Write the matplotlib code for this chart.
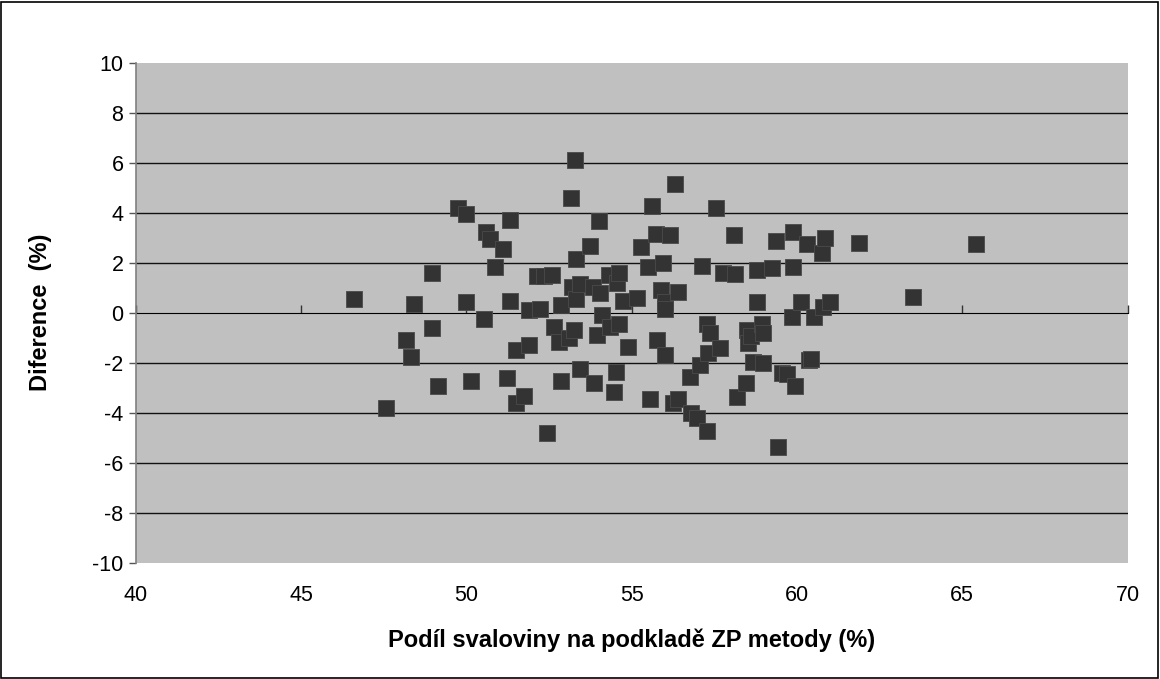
import matplotlib
matplotlib.use("Agg")
import matplotlib.pyplot as plt
from matplotlib.patches import Rectangle

plt.rcParams['font.family'] = ['Liberation Sans', 'DejaVu Sans']

# Data
x_zp = [46.59, 47.55, 48.17, 48.31, 48.40, 48.96, 48.95, 49.13, 49.73, 49.99,
        49.99, 50.15, 50.54, 50.58, 50.70, 50.87, 51.10, 51.24, 51.33, 51.33,
        51.49, 51.51, 51.74, 51.88, 51.89, 52.13, 52.21, 52.35, 52.43, 52.59,
        52.66, 52.79, 52.86, 52.86, 53.09, 53.15, 53.19, 53.24, 53.27, 53.32,
        53.32, 53.42, 53.42, 53.74, 53.84, 53.87, 53.95, 54.02, 54.04, 54.10,
        54.30, 54.35, 54.45, 54.51, 54.55, 54.60, 54.60, 54.75, 54.90, 55.16,
        55.29, 55.48, 55.55, 55.62, 55.72, 55.76, 55.90, 55.94, 56.01, 56.01,
        56.01, 56.17, 56.26, 56.31, 56.41, 56.41, 56.75, 56.80, 56.97, 57.07,
        57.13, 57.27, 57.29, 57.32, 57.37, 57.54, 57.67, 57.76, 58.09, 58.11,
        58.19, 58.45, 58.48, 58.53, 58.60, 58.94, 58.98, 58.68, 58.80, 58.79,
        58.97, 59.24, 59.36, 59.42, 59.54, 59.71, 59.84, 59.89, 59.89, 59.94,
        60.11, 60.30, 60.35, 60.42, 60.52, 60.78, 60.77, 60.85, 61.00, 61.87,
        63.52, 65.42]
y_diff = [0.54, -3.82, -1.10, -1.76, 0.35, 1.60, -0.61, -2.94, 4.18, 3.95,
          0.43, -2.73, -0.24, 3.23, 2.96, 1.82, 2.55, -2.62, 3.69, 0.47,
          -3.60, -1.48, -3.34, 0.11, -1.30, 1.47, 0.14, 1.47, -4.82, 1.52,
          -0.58, -1.16, 0.29, -2.74, -1.03, 4.60, 1.02, -0.70, 6.12, 2.15,
          0.53, 1.15, -2.27, 2.67, 1.04, -2.80, -0.90, 3.68, 0.78, -0.09,
          1.51, -0.56, -3.16, -2.37, 1.18, 1.58, -0.46, 0.48, -1.36, 0.58,
          2.63, 1.82, -3.45, 4.25, 3.15, -1.09, 0.92, 1.98, 0.44, 0.16,
          -1.69, 3.12, -3.60, 5.16, 0.84, -3.47, -2.56, -4.00, -4.23, -2.09,
          1.86, -0.47, -4.72, -1.62, -0.83, 4.19, -1.42, 1.58, 3.12, 1.55,
          -3.39, -2.83, -0.70, -1.22, -0.95, -0.45, -0.82, -1.96, 0.44, 1.71,
          -2.03, 1.78, 2.88, -5.36, -2.43, -2.45, -0.16, 3.24, 1.82, -2.93,
          0.44, 2.73, -1.89, -1.85, -0.16, 0.22, 2.40, 3.00, 0.44, 2.80,
          0.64, 2.74]

x_ticks = [40, 45, 50, 55, 60, 65, 70]
y_ticks = [-10, -8, -6, -4, -2, 0, 2, 4, 6, 8, 10]
x_label = "Podíl svaloviny na podkladě ZP metody (%)"
y_label = "Diference  (%)"

fig = plt.figure(figsize=(11.6, 6.79), dpi=100)
ax = fig.add_axes([136/1160, 1 - 562.7/679, (1127.5 - 136)/1160, 500/679])
ax.set_facecolor('#c0c0c0')
ax.set_xlim(40, 70)
ax.set_ylim(-10, 10)

# gridlines
for yv in y_ticks:
    if yv not in (-10, 0, 10):
        ax.axhline(yv, color='#111111', lw=1.0, zorder=1)

ax.scatter(x_zp, y_diff, marker='s', s=11.2**2, color='#333333',
           edgecolors='#4a4a4a', linewidths=0.6, zorder=3)

# Primary bottom axis: labels only, at the bottom
ax.set_xticks(x_ticks)
ax.set_xticklabels([str(v) for v in x_ticks], fontsize=15.5)
ax.tick_params(axis='x', length=0, pad=16)
ax.spines['bottom'].set_visible(False)
ax.spines['top'].set_visible(False)
ax.spines['right'].set_visible(False)
ax.spines['left'].set_color('#808080')
ax.spines['left'].set_linewidth(1.2)

# Secondary x axis crossing at y=0 (ticks, no labels)
sec = ax.secondary_xaxis(0.5)
sec.set_xticks(x_ticks)
sec.set_xticklabels([])
sec.tick_params(axis='x', length=6, width=1, color='#333333', direction='out')
sec.spines['bottom'].set_color('#666666')
sec.spines['bottom'].set_linewidth(1.5)

ax.set_yticks(y_ticks)
ax.set_yticklabels([str(v) for v in y_ticks], fontsize=15.5)
ax.tick_params(axis='y', length=5, width=1, color='#555555', pad=4)

ax.set_xlabel(x_label, fontsize=17, fontweight='bold', labelpad=16)
ax.set_ylabel(y_label, fontsize=17, fontweight='bold', labelpad=29)

# Outer frame
fig.patches.append(Rectangle((0.001, 0.0015), 0.997, 0.996, transform=fig.transFigure,
                             fill=False, edgecolor='black', lw=1.2))

fig.savefig('out.png', dpi=100)
